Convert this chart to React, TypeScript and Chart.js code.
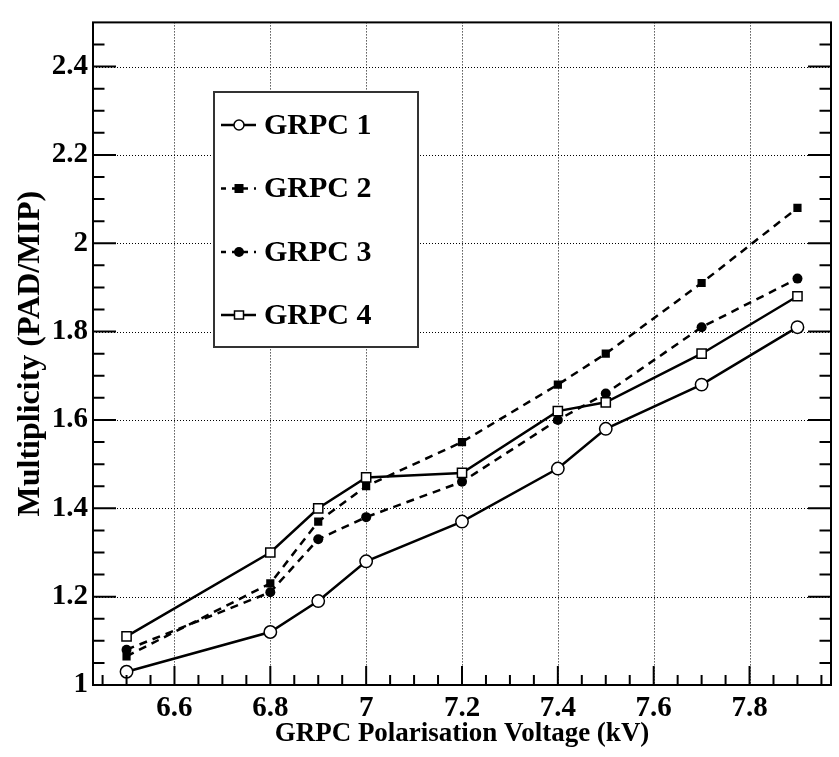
import React, { useEffect, useRef } from "react";
import { Chart, registerables } from "chart.js";

Chart.register(...registerables);

// ---- Data ----
const voltages = [6.5, 6.8, 6.9, 7.0, 7.2, 7.4, 7.5, 7.7, 7.9];
const grpc1 = [1.03, 1.12, 1.19, 1.28, 1.37, 1.49, 1.58, 1.68, 1.81];
const grpc2 = [1.065, 1.23, 1.37, 1.45, 1.55, 1.68, 1.75, 1.91, 2.08];
const grpc3 = [1.08, 1.21, 1.33, 1.38, 1.46, 1.6, 1.66, 1.81, 1.92];
const grpc4 = [1.11, 1.3, 1.4, 1.47, 1.48, 1.62, 1.64, 1.75, 1.88];
const seriesLabels = ["GRPC 1", "GRPC 2", "GRPC 3", "GRPC 4"];

const xTicks = [6.6, 6.8, 7.0, 7.2, 7.4, 7.6, 7.8];
const yTicks = [1, 1.2, 1.4, 1.6, 1.8, 2, 2.2, 2.4];
const X_MIN = 6.43;
const X_MAX = 7.97;
const Y_MIN = 1;
const Y_MAX = 2.5;
const MINOR_STEP = 0.05;

const xTitle = "GRPC Polarisation Voltage (kV)";
const yTitle = "Multiplicity (PAD/MIP)";

const FONT = "'Liberation Serif', 'Times New Roman', serif";

const fmt = (v: number) => String(parseFloat(Number(v).toFixed(2)));

type MarkerKind = "openCircle" | "filledSquare" | "filledCircle" | "openSquare";
const markerKinds: MarkerKind[] = ["openCircle", "filledSquare", "filledCircle", "openSquare"];
const dashed = [false, true, true, false];

function drawMarker(ctx: CanvasRenderingContext2D, kind: MarkerKind, x: number, y: number) {
  ctx.save();
  ctx.setLineDash([]);
  ctx.lineWidth = 1.5;
  ctx.strokeStyle = "#000";
  ctx.beginPath();
  if (kind === "openCircle") {
    ctx.arc(x, y, 5, 0, Math.PI * 2);
    ctx.fillStyle = "#fff";
    ctx.fill();
    ctx.stroke();
  } else if (kind === "filledCircle") {
    ctx.arc(x, y, 5, 0, Math.PI * 2);
    ctx.fillStyle = "#000";
    ctx.fill();
  } else if (kind === "filledSquare") {
    ctx.rect(x - 4.5, y - 4.5, 9, 9);
    ctx.fillStyle = "#000";
    ctx.fill();
  } else {
    ctx.rect(x - 4.5, y - 4, 9, 8);
    ctx.fillStyle = "#fff";
    ctx.fill();
    ctx.stroke();
  }
  ctx.restore();
}

const rootStyle = {
  id: "rootStyle",
  beforeDatasetsDraw(chart: any) {
    const { ctx, chartArea: a, scales } = chart;
    const x = scales.x;
    const y = scales.y;
    ctx.save();
    ctx.strokeStyle = "#000";
    ctx.lineWidth = 1;
    ctx.setLineDash([1, 2]);
    for (const v of xTicks) {
      const px = Math.round(x.getPixelForValue(v)) + 0.5;
      ctx.beginPath();
      ctx.moveTo(px, a.top);
      ctx.lineTo(px, a.bottom);
      ctx.stroke();
    }
    for (const v of yTicks) {
      const py = Math.round(y.getPixelForValue(v)) + 0.5;
      ctx.beginPath();
      ctx.moveTo(a.left, py);
      ctx.lineTo(a.right, py);
      ctx.stroke();
    }
    ctx.restore();
  },
  afterDatasetsDraw(chart: any) {
    const { ctx, chartArea: a, scales } = chart;
    const x = scales.x;
    const y = scales.y;
    ctx.save();
    ctx.setLineDash([]);
    ctx.strokeStyle = "#000";
    ctx.lineWidth = 2;
    const eps = 1e-6;
    for (let v = Math.ceil(X_MIN / MINOR_STEP) * MINOR_STEP; v <= X_MAX + eps; v += MINOR_STEP) {
      const isMajor = xTicks.some((t) => Math.abs(t - v) < 1e-4);
      const len = isMajor ? 19 : 10;
      const px = x.getPixelForValue(v);
      ctx.beginPath();
      ctx.moveTo(px, a.bottom);
      ctx.lineTo(px, a.bottom - len);
      ctx.stroke();
    }
    for (let v = Y_MIN + MINOR_STEP; v < Y_MAX - eps; v += MINOR_STEP) {
      const isMajor = yTicks.some((t) => Math.abs(t - v) < 1e-4);
      const len = isMajor ? 23 : 11.5;
      const py = y.getPixelForValue(v);
      ctx.beginPath();
      ctx.moveTo(a.left, py);
      ctx.lineTo(a.left + len, py);
      ctx.moveTo(a.right, py);
      ctx.lineTo(a.right - len, py);
      ctx.stroke();
    }
    // frame
    ctx.lineWidth = 2;
    ctx.strokeRect(a.left, a.top, a.right - a.left, a.bottom - a.top);

    // legend box
    const lx = 214, ly = 92, lw = 204, lh = 255;
    ctx.fillStyle = "#fff";
    ctx.fillRect(lx, ly, lw, lh);
    ctx.strokeStyle = "#333";
    ctx.lineWidth = 2;
    ctx.strokeRect(lx, ly, lw, lh);
    const rowsY = [125, 188.5, 252, 315];
    ctx.font = `bold 30px ${FONT}`;
    ctx.textBaseline = "middle";
    ctx.textAlign = "left";
    seriesLabels.forEach((lab, i) => {
      const ry = rowsY[i];
      ctx.save();
      ctx.strokeStyle = "#000";
      ctx.lineWidth = 2.5;
      ctx.setLineDash(dashed[i] ? [5, 6] : []);
      ctx.beginPath();
      ctx.moveTo(221, ry);
      ctx.lineTo(256, ry);
      ctx.stroke();
      ctx.restore();
      drawMarker(ctx, markerKinds[i], 239, ry);
      ctx.fillStyle = "#000";
      ctx.fillText(lab, 264, ry + 1);
    });
    ctx.restore();
  },
};

function makeDataset(label: string, ys: number[], i: number) {
  const kind = markerKinds[i];
  const open = kind === "openCircle" || kind === "openSquare";
  const square = kind === "filledSquare" || kind === "openSquare";
  let radius = 5;
  if (kind === "openCircle") radius = 6.2;
  if (kind === "filledSquare") radius = 5.8;
  if (kind === "openSquare") radius = 6.5;
  return {
    label,
    data: voltages.map((v, k) => ({ x: v, y: ys[k] })),
    borderColor: "#000",
    borderWidth: 2.5,
    borderDash: dashed[i] ? [8, 6] : [],
    pointStyle: square ? "rect" : "circle",
    pointRadius: radius,
    pointBackgroundColor: open ? "#fff" : "#000",
    pointBorderColor: "#000",
    pointBorderWidth: open ? 1.5 : 0,
    fill: false,
    tension: 0,
    order: 4 - i,
  };
}

export default function App() {
  const ref = useRef<HTMLCanvasElement | null>(null);
  useEffect(() => {
    if (!ref.current) return;
    const tickFont = { family: FONT, weight: "bold" as const, size: 29 };
    const chart = new Chart(ref.current, {
      type: "line",
      data: {
        datasets: [
          makeDataset(seriesLabels[0], grpc1, 0),
          makeDataset(seriesLabels[1], grpc2, 1),
          makeDataset(seriesLabels[2], grpc3, 2),
          makeDataset(seriesLabels[3], grpc4, 3),
        ] as any,
      },
      options: {
        animation: false,
        responsive: false,
        devicePixelRatio: 1,
        layout: { padding: { left: 0, top: 8, right: 4, bottom: 0 } },
        plugins: { legend: { display: false }, tooltip: { enabled: false } },
        scales: {
          x: {
            type: "linear",
            min: X_MIN,
            max: X_MAX,
            afterBuildTicks: (s: any) => {
              s.ticks = xTicks.map((v) => ({ value: v }));
            },
            afterFit: (s: any) => {
              s.height = 72;
            },
            grid: { display: false, drawTicks: false },
            border: { display: false },
            ticks: {
              callback: (v: any) => fmt(v),
              font: tickFont,
              color: "#000",
              padding: 6,
              maxRotation: 0,
              autoSkip: false,
            },
            title: {
              display: true,
              text: xTitle,
              color: "#000",
              font: { family: FONT, weight: "bold", size: 27 },
              padding: { top: 0, bottom: 7 },
            },
          },
          y: {
            type: "linear",
            min: Y_MIN,
            max: Y_MAX,
            afterBuildTicks: (s: any) => {
              s.ticks = yTicks.map((v) => ({ value: v }));
            },
            afterFit: (s: any) => {
              s.width = 93;
            },
            grid: { display: false, drawTicks: false },
            border: { display: false },
            ticks: {
              callback: (v: any) => fmt(v),
              font: tickFont,
              color: "#000",
              padding: 5,
              autoSkip: false,
            },
            title: {
              display: true,
              text: yTitle,
              color: "#000",
              font: { family: FONT, weight: "bold", size: 32 },
              padding: { top: 12, bottom: 0 },
            },
          },
        },
      },
      plugins: [rootStyle],
    });
    return () => chart.destroy();
  }, []);
  return (
    <div style={{ position: "absolute", left: 0, top: 0, width: 839, height: 757, background: "#fff" }}>
      <canvas ref={ref} width={839} height={757} style={{ display: "block" }} />
    </div>
  );
}
